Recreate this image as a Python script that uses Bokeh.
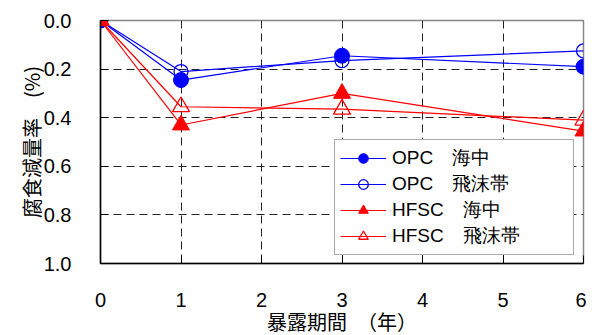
from bokeh.plotting import figure
from bokeh.models import Range1d, FixedTicker, Legend, LegendItem
from bokeh.embed import file_html
from bokeh.resources import INLINE

# ---- data ----
years = [0, 1, 3, 6]
opc_sea = [0.0, 0.245, 0.145, 0.19]
opc_splash = [0.0, 0.21, 0.165, 0.125]
hfsc_sea = [0.0, 0.43, 0.30, 0.455]
hfsc_splash = [0.0, 0.355, 0.365, 0.41]

series_labels = ["OPC\u3000海中", "OPC\u3000飛沫帯", "HFSC\u3000海中", "HFSC\u3000飛沫帯"]
x_ticks = [0, 1, 2, 3, 4, 5, 6]
y_ticks = [0.0, 0.2, 0.4, 0.6, 0.8, 1.0]
y_tick_labels = ["0.0", "0.2", "0.4", "0.6", "0.8", "1.0"]
x_title = "暴露期間\u3000（年）"
y_title = "腐食減量率\u3000(%)"

LATIN = "Liberation Sans"
CJK = "Noto Sans CJK JP"

p = figure(frame_width=483, frame_height=243, output_backend="svg", toolbar_location=None,
           x_range=Range1d(0, 6), y_range=Range1d(1.0, 0.0),
           min_border_left=100, min_border_right=3, min_border_top=20, min_border_bottom=64)

p.outline_line_color = "#888888"
p.outline_line_width = 1.5
p.background_fill_color = "white"
p.border_fill_color = "white"

# axes
xa = p.xaxis[0]
xa.ticker = FixedTicker(ticks=x_ticks)
xa.major_tick_in = 8
xa.major_tick_out = 0
xa.minor_tick_line_color = None
xa.axis_line_color = "black"
xa.axis_line_width = 1.5
xa.major_tick_line_color = "black"
xa.major_label_text_font = LATIN
xa.major_label_text_font_size = "20px"
xa.major_label_text_color = "black"
xa.major_label_standoff = 29
xa.axis_label = x_title
xa.axis_label_text_font = CJK
xa.axis_label_text_font_style = "normal"
xa.axis_label_text_font_size = "20px"
xa.axis_label_standoff = -3
xa.axis_label_text_color = "black"

ya = p.yaxis[0]
ya.ticker = FixedTicker(ticks=y_ticks)
ya.major_label_overrides = {t: l for t, l in zip(y_ticks, y_tick_labels)}
ya.major_tick_in = 8
ya.major_tick_out = 0
ya.minor_tick_line_color = None
ya.axis_line_color = "black"
ya.axis_line_width = 1.5
ya.major_tick_line_color = "black"
ya.major_label_text_font = LATIN
ya.major_label_text_font_size = "20px"
ya.major_label_text_color = "black"
ya.major_label_standoff = 29
ya.axis_label = y_title
ya.axis_label_text_font = CJK
ya.axis_label_text_font_style = "normal"
ya.axis_label_text_font_size = "20px"
ya.axis_label_standoff = -5
ya.axis_label_text_color = "black"

# grids
p.xgrid.ticker = FixedTicker(ticks=[1, 2, 3, 4, 5])
p.ygrid.ticker = FixedTicker(ticks=[0.2, 0.4, 0.6, 0.8])
for g in (p.xgrid[0], p.ygrid[0]):
    g.grid_line_color = "#222222"
    g.grid_line_dash = "8 5"
    g.grid_line_width = 1

BLUE = "#0000FF"
RED = "#FF0000"

l1 = p.line(years, opc_sea, line_color=BLUE, line_width=1.2)
m1 = p.scatter(years, opc_sea, marker="circle", size=15, fill_color=BLUE, line_color=BLUE)
l2 = p.line(years, opc_splash, line_color=BLUE, line_width=1.2)
m2 = p.scatter(years, opc_splash, marker="circle", size=14, fill_color="white", fill_alpha=0,
               line_color=BLUE, line_width=1.3)
l3 = p.line(years, hfsc_sea, line_color=RED, line_width=1.2)
m3 = p.scatter(years, hfsc_sea, marker="triangle", size=17, fill_color=RED, line_color=RED)
l4 = p.line(years, hfsc_splash, line_color=RED, line_width=1.2)
m4 = p.scatter(years, hfsc_splash, marker="triangle", size=17, fill_color="white", fill_alpha=0,
               line_color=RED, line_width=1.3)

items = []
for lab, rs in zip(series_labels, [[l1, m1], [l2, m2], [l3, m3], [l4, m4]]):
    items.append(LegendItem(label=lab, renderers=rs))

legend = Legend(items=items, location=(234, 8))
legend.label_text_font = LATIN
legend.label_text_font_size = "19px"
legend.label_text_line_height = 1.0
legend.label_text_color = "black"
legend.glyph_width = 46
legend.glyph_height = 24
legend.label_height = 20
legend.label_width = 176
legend.label_standoff = 6
legend.spacing = 0
legend.padding = 5
legend.margin = 0
legend.border_line_color = "#555555"
legend.border_line_width = 1.2
legend.background_fill_color = "white"
legend.background_fill_alpha = 1.0
p.add_layout(legend, "center")

open("out.html", "w").write(file_html(p, INLINE))
